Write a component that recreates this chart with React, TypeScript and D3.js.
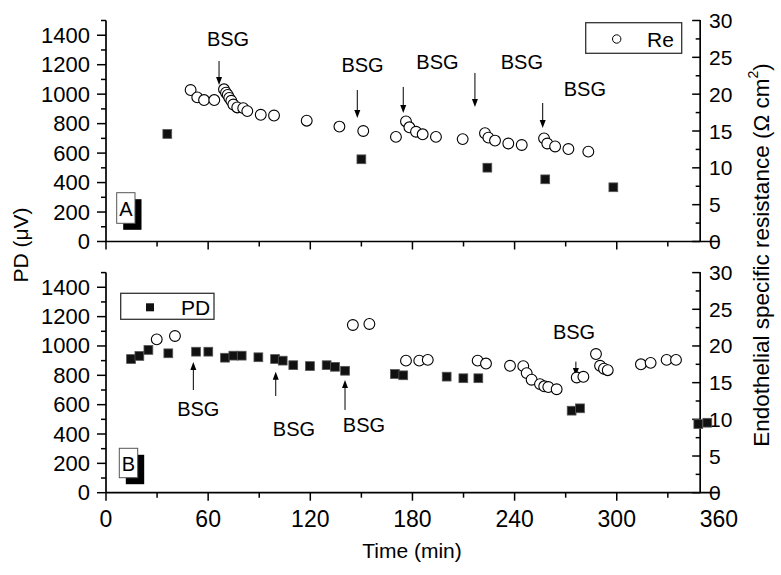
import React from "react";
import * as d3 from "d3";

// ---- data ----
const timeTicks = [0, 60, 120, 180, 240, 300, 360];
const timeMinor = [30, 90, 150, 210, 270, 330];
const pdTicks = [0, 200, 400, 600, 800, 1000, 1200, 1400];
const reTicks = [0, 5, 10, 15, 20, 25, 30];

// Panel A
const aPdTime = [36, 150, 224, 258, 298];
const aPdValue = [730, 558, 501, 422, 368];
const aReTime = [49.7, 53.6, 57.6, 63.6, 69.3, 70.5, 71.5, 72.4, 73.6, 74.8, 77.1, 80.6, 83, 90.9, 98.7, 117.9, 137.1, 151.1, 170.3, 176.2, 178.2, 182.1, 186, 193.8, 209.5, 222.6, 224.6, 228.5, 236.3, 244.2, 257.3, 259.2, 263.8, 271.6, 283.3];
const aReValue = [20.56, 19.57, 19.2, 19.2, 20.66, 20.2, 19.9, 19.5, 19.1, 18.6, 18.2, 18.1, 17.7, 17.2, 17.1, 16.4, 15.6, 15.0, 14.2, 16.3, 15.5, 14.9, 14.55, 14.2, 13.9, 14.7, 14.1, 13.7, 13.3, 13.1, 14.0, 13.3, 12.9, 12.55, 12.2];
// BSG annotations (time, arrow tail PD, arrow head PD, label time, label PD)
const aBsgTime = [66.4, 147.6, 174.6, 216.7, 256.5];
const aBsgFrom = [1225, 1028, 1049, 1144, 940];
const aBsgTo = [1062, 838, 872, 913, 770];
const aBsgLabelTime = [71.7, 150.7, 194.7, 244.3, 281.3];
const aBsgLabelValue = [1330, 1150, 1171, 1171, 988];

// Panel B
const bPdTime = [14.7, 19.6, 24.9, 36.6, 52.9, 60.1, 69.9, 74.8, 79.7, 89.5, 99.3, 103.8, 110, 119.8, 129.6, 134.5, 140.4, 169.7, 174.6, 200.1, 209.9, 218.7, 273.5, 278.4, 347.9, 353.2];
const bPdValue = [911, 932, 973, 950, 961, 961, 920, 934, 934, 923, 911, 900, 869, 863, 869, 858, 831, 809, 800, 791, 780, 780, 559, 575, 468, 477];
const bReTime = [29.8, 40.5, 145, 154.7, 176.2, 184, 189, 218.3, 223.2, 237.3, 245.1, 247.1, 250, 254.9, 257.4, 259.8, 264.7, 276.5, 280.4, 287.8, 290.2, 292.5, 294.7, 314.2, 319.9, 329.3, 334.8];
const bReValue = [20.9, 21.36, 22.86, 23.0, 18.0, 18.0, 18.1, 18.0, 17.6, 17.3, 17.25, 16.3, 15.4, 14.8, 14.5, 14.4, 14.1, 15.7, 15.8, 18.9, 17.3, 16.9, 16.7, 17.5, 17.7, 18.1, 18.1];
const bBsgTime = [51.3, 99.7, 140.4, 276];
const bBsgFrom = [700, 659, 564, 893];
const bBsgTo = [891, 825, 768, 795];
const bBsgLabelTime = [54.2, 110.4, 151.5, 274.9];
const bBsgLabelValue = [523, 386, 414, 1048];

const FONT = "'Liberation Sans', Arial, sans-serif";
const X_LEFT = 106;
const X_RIGHT_TIME = 349;

const x = d3.scaleLinear().domain([0, 360]).range([X_LEFT, 718.9]);

type PanelProps = {
  top: number;
  bottom: number;
  pdT: number[];
  pdV: number[];
  reT: number[];
  reV: number[];
  bsgT: number[];
  bsgFrom: number[];
  bsgTo: number[];
  bsgLT: number[];
  bsgLV: number[];
  showXLabels: boolean;
  letter: string;
  letterBox: [number, number, number, number]; // dx from left, dy from bottom (top), w, h
};

function Panel(p: PanelProps) {
  const yL = d3.scaleLinear().domain([0, 1500]).range([p.bottom, p.top]);
  const yR = d3.scaleLinear().domain([0, 30]).range([p.bottom, p.top]);
  const xr = x(X_RIGHT_TIME);
  const minorL = d3.range(100, 1501, 200);
  const minorR = d3.range(2.5, 30, 5);
  const [lbx, lby, lbw, lbh] = p.letterBox;
  return (
    <g>
      {/* axes lines */}
      <line x1={X_LEFT} x2={X_LEFT} y1={yL(1500)} y2={p.bottom} stroke="#000" strokeWidth={1.7} />
      <line x1={xr} x2={xr} y1={yR(30) - 0.5} y2={p.bottom} stroke="#000" strokeWidth={1.7} />
      <line x1={X_LEFT} x2={x(360)} y1={p.bottom} y2={p.bottom} stroke="#000" strokeWidth={1.7} />
      {/* left ticks */}
      {pdTicks.map((v) => (
        <g key={"l" + v}>
          <line x1={X_LEFT - 9} x2={X_LEFT} y1={yL(v)} y2={yL(v)} stroke="#000" strokeWidth={1.5} />
          <text x={90} y={yL(v)} textAnchor="end" dominantBaseline="central" fontSize={22} fontFamily={FONT}>{v}</text>
        </g>
      ))}
      {minorL.map((v) => (
        <line key={"lm" + v} x1={X_LEFT - 5} x2={X_LEFT} y1={yL(v)} y2={yL(v)} stroke="#000" strokeWidth={1.5} />
      ))}
      {/* right ticks */}
      {reTicks.map((v) => (
        <g key={"r" + v}>
          <line x1={xr - 8} x2={xr} y1={yR(v)} y2={yR(v)} stroke="#000" strokeWidth={1.5} />
          <text x={709} y={yR(v)} textAnchor="start" dominantBaseline="central" fontSize={21} fontFamily={FONT}>{v}</text>
        </g>
      ))}
      {minorR.map((v) => (
        <line key={"rm" + v} x1={xr - 4.5} x2={xr} y1={yR(v)} y2={yR(v)} stroke="#000" strokeWidth={1.5} />
      ))}
      {/* x ticks */}
      {timeTicks.filter((t) => t <= X_RIGHT_TIME).map((t) => (
        <line key={"x" + t} x1={x(t)} x2={x(t)} y1={p.bottom} y2={p.bottom + 8} stroke="#000" strokeWidth={1.5} />
      ))}
      {timeMinor.map((t) => (
        <line key={"xm" + t} x1={x(t)} x2={x(t)} y1={p.bottom} y2={p.bottom + 5} stroke="#000" strokeWidth={1.5} />
      ))}
      {p.showXLabels &&
        timeTicks.map((t) => (
          <text key={"xl" + t} x={x(t)} y={p.bottom + 34} textAnchor="middle" fontSize={23} fontFamily={FONT}>{t}</text>
        ))}
      {/* panel letter */}
      <rect x={X_LEFT + lbx + 6.5} y={p.bottom - lby + 6.5} width={lbw} height={lbh} fill="#000" />
      <rect x={X_LEFT + lbx} y={p.bottom - lby} width={lbw} height={lbh} fill="#fff" stroke="#555" strokeWidth={1} />
      <text x={X_LEFT + lbx + lbw / 2} y={p.bottom - lby + lbh / 2 + 1} textAnchor="middle" dominantBaseline="central" fontSize={20} fontFamily={FONT}>{p.letter}</text>
      {/* BSG annotations */}
      {p.bsgT.map((t, i) => {
        const y1 = yL(p.bsgFrom[i]);
        const y2 = yL(p.bsgTo[i]);
        const dir = y2 > y1 ? 1 : -1;
        const xx = x(t);
        return (
          <g key={"b" + i}>
            <line x1={xx} x2={xx} y1={y1} y2={y2 - dir * 6} stroke="#000" strokeWidth={1} />
            <path d={`M${xx - 3},${y2 - dir * 8} L${xx + 3},${y2 - dir * 8} L${xx},${y2} Z`} fill="#000" />
            <text x={x(p.bsgLT[i])} y={yL(p.bsgLV[i])} textAnchor="middle" fontSize={20} fontFamily={FONT}>BSG</text>
          </g>
        );
      })}
      {/* Re circles */}
      {p.reT.map((t, i) => (
        <circle key={"c" + i} cx={x(t)} cy={yR(p.reV[i])} r={5.4} fill="#fff" stroke="#000" strokeWidth={1.1} />
      ))}
      {/* PD squares */}
      {p.pdT.map((t, i) => (
        <rect key={"s" + i} x={x(t) - 4.4} y={yL(p.pdV[i]) - 4.4} width={8.8} height={8.8} fill="#111" stroke="#555" strokeWidth={0.8} />
      ))}
    </g>
  );
}

export default function App() {
  const topB = 241.5;
  const botB = 492.7;
  return (
    <svg width={781} height={575} style={{ position: "absolute", left: 0, top: 0, background: "#fff" }}>
      <rect width={781} height={575} fill="#fff" />
      <Panel top={20.5} bottom={topB} pdT={aPdTime} pdV={aPdValue} reT={aReTime} reV={aReValue}
        bsgT={aBsgTime} bsgFrom={aBsgFrom} bsgTo={aBsgTo} bsgLT={aBsgLabelTime} bsgLV={aBsgLabelValue}
        showXLabels={false} letter="A" letterBox={[10.7, 48.8, 18.3, 30.6]} />
      <Panel top={272.6} bottom={botB} pdT={bPdTime} pdV={bPdValue} reT={bReTime} reV={bReValue}
        bsgT={bBsgTime} bsgFrom={bBsgFrom} bsgTo={bBsgTo} bsgLT={bBsgLabelTime} bsgLV={bBsgLabelValue}
        showXLabels={true} letter="B" letterBox={[13.3, 44.4, 18.4, 29.4]} />
      {/* legend Re (top) */}
      <rect x={585.7} y={22.7} width={96} height={30.6} fill="#fff" stroke="#333" strokeWidth={1.3} />
      <circle cx={616.7} cy={39} r={4.2} fill="#fff" stroke="#000" strokeWidth={1} />
      <text x={647} y={47} fontSize={21} fontFamily={FONT}>Re</text>
      {/* legend PD (bottom) */}
      <rect x={120.7} y={293.3} width={93.3} height={26} fill="#fff" stroke="#333" strokeWidth={1.3} />
      <rect x={146} y={303.3} width={8} height={8} fill="#111" />
      <text x={181} y={315} fontSize={21} fontFamily={FONT}>PD</text>
      {/* axis titles */}
      <text transform="translate(20,245) rotate(-90)" textAnchor="middle" dominantBaseline="central" fontSize={21} fontFamily={FONT}>PD (μV)</text>
      <text transform="translate(761,255) rotate(-90)" textAnchor="middle" dominantBaseline="central" fontSize={22.5} fontFamily={FONT}>
        Endothelial specific resistance (Ω cm<tspan fontSize={14} dy={-8}>2</tspan><tspan dy={8}>)</tspan>
      </text>
      <text x={412} y={558} textAnchor="middle" fontSize={21} fontFamily={FONT}>Time (min)</text>
    </svg>
  );
}
